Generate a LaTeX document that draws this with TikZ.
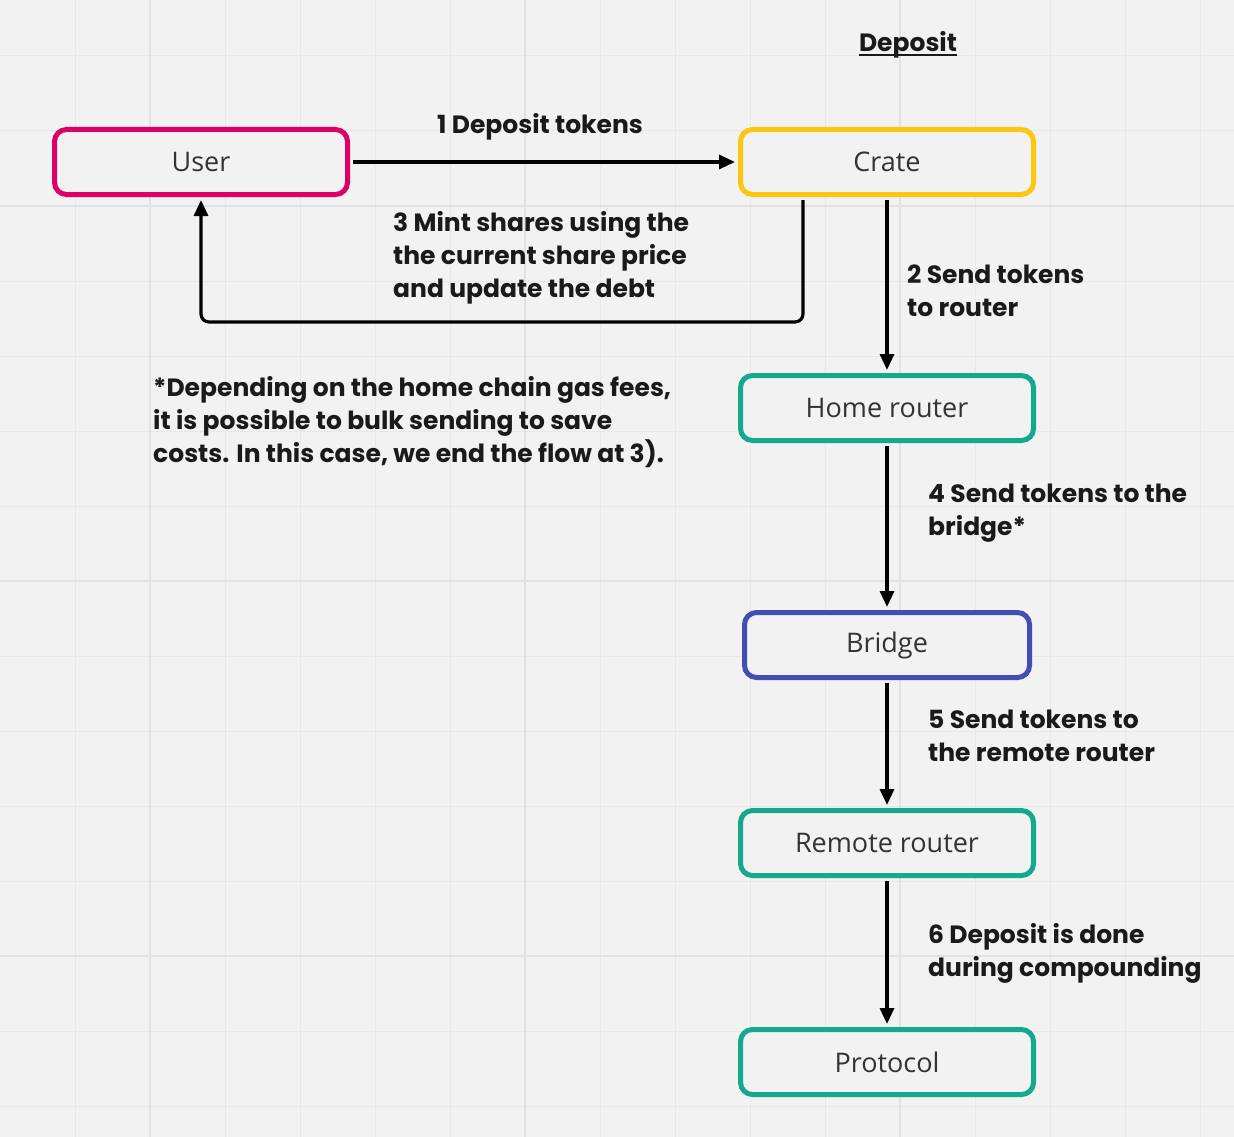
\documentclass[tikz,border=0pt]{standalone}
\usepackage{fontspec}
\setmainfont{Open Sans}
\newfontfamily\lblfont{Poppins}
\usetikzlibrary{arrows.meta}
\definecolor{bg}{HTML}{F2F2F2}
\definecolor{gridminor}{HTML}{E8E8E8}
\definecolor{gridmajor}{HTML}{E2E2E2}
\definecolor{cuser}{HTML}{DD0066}
\definecolor{ccrate}{HTML}{FCC70E}
\definecolor{cteal}{HTML}{14A88C}
\definecolor{cblue}{HTML}{434DB3}
\definecolor{ctext}{HTML}{333333}
\definecolor{clbl}{HTML}{1A1A1A}
\tikzset{
  box/.style={draw, line width=5pt, rounded corners=12pt, minimum width=293pt, minimum height=65pt, inner sep=0pt, fill=bg, text=ctext, font=\fontsize{27}{32}\selectfont},
  arr/.style={line width=3.2pt, -{Triangle[length=16pt,width=14pt]}, shorten >=3pt, shorten <=3pt},
  lbl/.style={anchor=west, align=left, inner sep=0pt, text=clbl, font=\lblfont\bfseries\fontsize{25}{33}\selectfont},
}
\begin{document}
\begin{tikzpicture}[x=1pt,y=-1pt]
\fill[bg] (0,0) rectangle (1234,1137);
\useasboundingbox (0,0) rectangle (1234,1137);
% grid
\foreach \gx in {75,150,...,1225} {\draw[gridminor, line width=1pt] (\gx,0) -- (\gx,1137);}
\foreach \gy in {56,131,...,1137} {\draw[gridminor, line width=1pt] (0,\gy) -- (1234,\gy);}
\foreach \gx in {150,525,900} {\draw[gridmajor, line width=1.6pt] (\gx,0) -- (\gx,1137);}
\foreach \gy in {206,581,956} {\draw[gridmajor, line width=1.6pt] (0,\gy) -- (1234,\gy);}

% nodes
\node[box, draw=cuser] (user) at (201,162) {User};
\node[box, draw=ccrate] (crate) at (887,162) {Crate};
\node[box, draw=cteal] (home) at (887,408) {Home router};
\node[box, draw=cblue, minimum width=285pt] (bridge) at (887,645) {Bridge};
\node[box, draw=cteal] (remote) at (887,843) {Remote router};
\node[box, draw=cteal] (protocol) at (887,1062) {Protocol};

% title
\node[inner sep=0pt, text=clbl, font=\lblfont\bfseries\fontsize{25}{30}\selectfont] (title) at (908,45) {Deposit};
\draw[clbl, line width=2pt] ([yshift=4pt]title.south west) -- ([yshift=4pt]title.south east);

% connectors
\coordinate (c3) at (803,322);
\draw[arr] (user.east) -- (crate.west);
\draw[arr, rounded corners=8pt] ([xshift=-84pt]crate.south) -- (c3) -| (user.south);
\draw[arr] (crate.south) -- (home.north);
\draw[arr] (home.south) -- (bridge.north);
\draw[arr] (bridge.south) -- (remote.north);
\draw[arr] (remote.south) -- (protocol.north);

% labels
\node[lbl] (l1) at (437,127) {1 Deposit tokens};
\node[lbl] (l3) at (393,258) {3 Mint shares using the\\the current share price\\and update the debt};
\node[lbl] (l2) at (907,291) {2 Send tokens\\to router};
\node[lbl] (l4) at (928,513) {4 Send tokens to the\\bridge*};
\node[lbl] (l5) at (928,736) {5 Send tokens to\\the remote router};
\node[lbl] (l6) at (928,953) {6 Deposit is done\\during compounding};
\node[lbl] (note) at (153,422) {*Depending on the home chain gas fees,\\it is possible to bulk sending to save\\costs. In this case, we end the flow at 3).};
\end{tikzpicture}
\end{document}
